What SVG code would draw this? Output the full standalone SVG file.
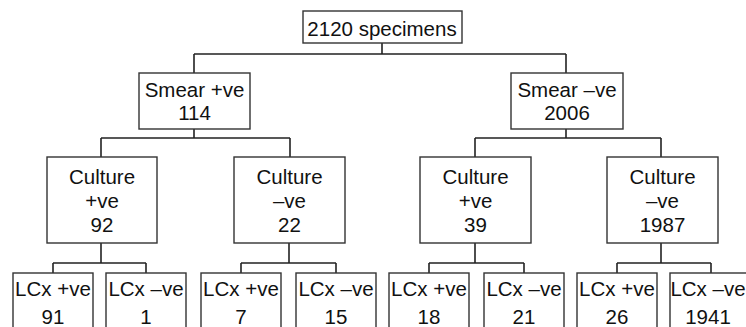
<svg xmlns="http://www.w3.org/2000/svg" width="746" height="327" viewBox="0 0 746 327">
<style>
rect{fill:#fff;stroke:#333;stroke-width:1.4}
rect.bg{stroke:none}
text{font-family:"Liberation Sans",Arial,sans-serif;font-size:20.5px;fill:#111;text-anchor:middle}
.c path{fill:none;stroke:#222;stroke-width:1.6}
</style>
<rect class="bg" width="746" height="327"/>
<g class="c" id="connectors">
<path d="M382 43V54M194 54H566M194 54V73M566 54V73"/>
<path d="M194 129V138M101 138H290M101 138V157M290 138V157"/>
<path d="M566 129V138M475 138H661M475 138V157M661 138V157"/>
<path d="M101 243V263M53 263H146M53 263V273M146 263V273"/>
<path d="M289 243V263M241 263H336M241 263V273M336 263V273"/>
<path d="M475 243V263M429 263H524M429 263V273M524 263V273"/>
<path d="M661 243V263M617 263H711M617 263V273M711 263V273"/>
</g>
<g id="root"><rect x="303" y="11" width="159" height="32"/><text x="382" y="36">2120 specimens</text></g>
<g id="smearPos"><rect x="139" y="73" width="111" height="56"/><text x="194.5" y="97">Smear +ve</text><text x="194.5" y="120">114</text></g>
<g id="smearNeg"><rect x="511" y="73" width="112" height="56"/><text x="567" y="97">Smear –ve</text><text x="567" y="120">2006</text></g>
<g id="cult1"><rect x="47" y="157" width="110" height="86"/><text x="102" y="184">Culture</text><text x="102" y="208">+ve</text><text x="102" y="232">92</text></g>
<g id="cult2"><rect x="234" y="157" width="111" height="86"/><text x="289.5" y="184">Culture</text><text x="289.5" y="208">–ve</text><text x="289.5" y="232">22</text></g>
<g id="cult3"><rect x="420" y="157" width="111" height="86"/><text x="475.5" y="184">Culture</text><text x="475.5" y="208">+ve</text><text x="475.5" y="232">39</text></g>
<g id="cult4"><rect x="607" y="157" width="111" height="86"/><text x="662.5" y="184">Culture</text><text x="662.5" y="208">–ve</text><text x="662.5" y="232">1987</text></g>
<g id="l1"><rect x="13" y="273" width="80" height="60"/><text x="53" y="296">LCx +ve</text><text x="53" y="324">91</text></g>
<g id="l2"><rect x="106" y="273" width="80" height="60"/><text x="146" y="296">LCx –ve</text><text x="146" y="324">1</text></g>
<g id="l3"><rect x="201" y="273" width="80" height="60"/><text x="241" y="296">LCx +ve</text><text x="241" y="324">7</text></g>
<g id="l4"><rect x="296" y="273" width="80" height="60"/><text x="336" y="296">LCx –ve</text><text x="336" y="324">15</text></g>
<g id="l5"><rect x="389" y="273" width="80" height="60"/><text x="429" y="296">LCx +ve</text><text x="429" y="324">18</text></g>
<g id="l6"><rect x="484" y="273" width="80" height="60"/><text x="524" y="296">LCx –ve</text><text x="524" y="324">21</text></g>
<g id="l7"><rect x="577" y="273" width="80" height="60"/><text x="617" y="296">LCx +ve</text><text x="617" y="324">26</text></g>
<g id="l8"><rect x="670" y="273" width="80" height="60"/><text x="708" y="296">LCx –ve</text><text x="708" y="324">1941</text></g>
</svg>
